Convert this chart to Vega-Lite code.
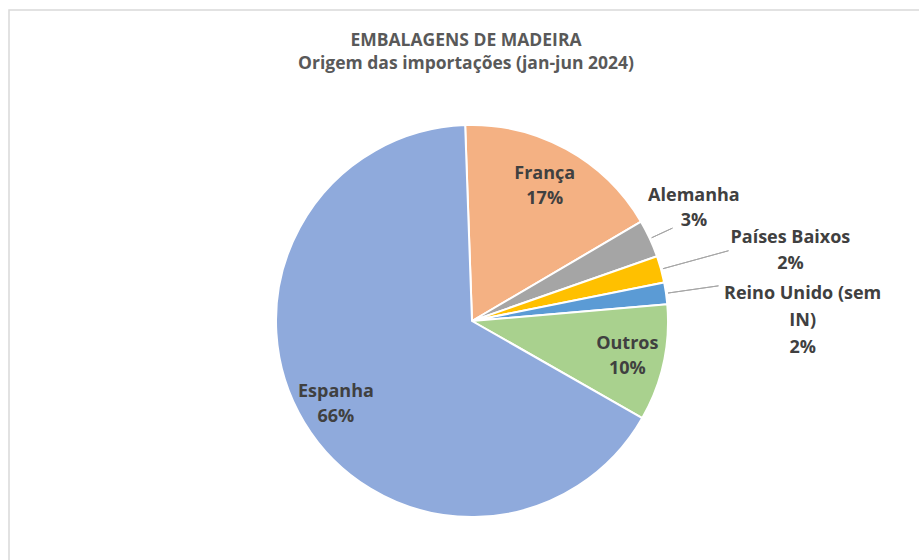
{
  "$schema": "https://vega.github.io/schema/vega-lite/v6.json",
  "width": 926,
  "height": 622,
  "autosize": {"type": "none"},
  "padding": {"left": 9, "top": 10, "right": -16, "bottom": -72},
  "background": "white",
  "view": {"stroke": "#D9D9D9", "strokeWidth": 1.5, "fill": "white"},
  "config": {"view": {"stroke": "#D9D9D9", "strokeWidth": 1.5}},
  "title": {
    "text": ["EMBALAGENS DE MADEIRA", "Origem das importações (jan-jun 2024)"],
    "font": "Open Sans",
    "fontSize": 17.5,
    "fontWeight": "bold",
    "color": "#595959",
    "lineHeight": 23,
    "anchor": "middle",
    "offset": -62,
    "dx": -6
  },
  "data": {
    "values": [
      {"pais": "França", "valor": 17.1, "ordem": 1, "rotulo": "França\n17%"},
      {"pais": "Alemanha", "valor": 3.1, "ordem": 2, "rotulo": "Alemanha\n3%"},
      {"pais": "Países Baixos", "valor": 2.2, "ordem": 3, "rotulo": "Países Baixos\n2%"},
      {"pais": "Reino Unido (sem IN)", "valor": 1.8, "ordem": 4, "rotulo": "Reino Unido (sem\nIN)\n2%"},
      {"pais": "Outros", "valor": 9.6, "ordem": 5, "rotulo": "Outros\n10%"},
      {"pais": "Espanha", "valor": 66.2, "ordem": 6, "rotulo": "Espanha\n66%"}
    ]
  },
  "encoding": {
    "theta": {"field": "valor", "type": "quantitative", "stack": true, "scale": {"range": [-0.0349, 6.2483]}},
    "order": {"field": "ordem", "type": "quantitative"}
  },
  "layer": [
    {
      "mark": {"type": "arc", "radius": 196, "stroke": "white", "strokeWidth": 2},
      "encoding": {
        "color": {
          "field": "pais",
          "type": "nominal",
          "scale": {
            "domain": ["França", "Alemanha", "Países Baixos", "Reino Unido (sem IN)", "Outros", "Espanha"],
            "range": ["#F4B183", "#A5A5A5", "#FFC000", "#5B9BD5", "#A9D18E", "#8FAADC"]
          },
          "legend": null
        }
      }
    },
    {
      "transform": [
        {"window": [{"op": "sum", "field": "valor", "as": "acum"}], "sort": [{"field": "ordem"}], "frame": [null, 0]},
        {"calculate": "datum.acum - datum.valor / 2", "as": "meio"},
        {"filter": "datum.pais === 'Alemanha'"}
      ],
      "mark": {"type": "arc", "radius": 221, "radius2": 198, "fill": null, "stroke": "#A6A6A6", "strokeWidth": 1},
      "encoding": {
        "theta": {"field": "meio", "type": "quantitative", "scale": {"range": [-0.0349, 6.2483]}},
        "theta2": {"field": "meio"}
      }
    },
    {
      "transform": [
        {"window": [{"op": "sum", "field": "valor", "as": "acum"}], "sort": [{"field": "ordem"}], "frame": [null, 0]},
        {"calculate": "datum.acum - datum.valor / 2", "as": "meio"},
        {"filter": "datum.pais === 'Países Baixos'"}
      ],
      "mark": {"type": "arc", "radius": 266, "radius2": 198, "fill": null, "stroke": "#A6A6A6", "strokeWidth": 1},
      "encoding": {
        "theta": {"field": "meio", "type": "quantitative", "scale": {"range": [-0.0349, 6.2483]}},
        "theta2": {"field": "meio"}
      }
    },
    {
      "transform": [
        {"window": [{"op": "sum", "field": "valor", "as": "acum"}], "sort": [{"field": "ordem"}], "frame": [null, 0]},
        {"calculate": "datum.acum - datum.valor / 2", "as": "meio"},
        {"filter": "datum.pais === 'Reino Unido (sem IN)'"}
      ],
      "mark": {"type": "arc", "radius": 249, "radius2": 198, "fill": null, "stroke": "#A6A6A6", "strokeWidth": 1},
      "encoding": {
        "theta": {"field": "meio", "type": "quantitative", "scale": {"range": [-0.0349, 6.2483]}},
        "theta2": {"field": "meio"}
      }
    },
    {
      "mark": {"type": "text", "radius": 151, "dy": -14.5, "lineBreak": "\n", "lineHeight": 25, "font": "Open Sans", "fontSize": 18, "fontWeight": "bold", "color": "#404040", "baseline": "middle", "align": "center"},
      "encoding": {"text": {"condition": {"test": "datum.pais === 'França'", "field": "rotulo"}, "value": ""}}
    },
    {
      "mark": {"type": "text", "radius": 159, "dy": -11, "lineBreak": "\n", "lineHeight": 25, "font": "Open Sans", "fontSize": 18, "fontWeight": "bold", "color": "#404040", "baseline": "middle", "align": "center"},
      "encoding": {"text": {"condition": {"test": "datum.pais === 'Outros' || datum.pais === 'Espanha'", "field": "rotulo"}, "value": ""}}
    },
    {
      "mark": {"type": "text", "radius": 249, "dx": -4, "dy": -20.5, "lineBreak": "\n", "lineHeight": 25, "font": "Open Sans", "fontSize": 18, "fontWeight": "bold", "color": "#404040", "baseline": "middle", "align": "center"},
      "encoding": {"text": {"condition": {"test": "datum.pais === 'Alemanha'", "field": "rotulo"}, "value": ""}}
    },
    {
      "mark": {"type": "text", "radius": 327, "dx": 3, "dy": 3.5, "lineBreak": "\n", "lineHeight": 26, "font": "Open Sans", "fontSize": 18, "fontWeight": "bold", "color": "#404040", "baseline": "middle", "align": "center"},
      "encoding": {"text": {"condition": {"test": "datum.pais === 'Países Baixos'", "field": "rotulo"}, "value": ""}}
    },
    {
      "mark": {"type": "text", "radius": 331, "dx": 3, "dy": 20, "lineBreak": "\n", "lineHeight": 26.7, "font": "Open Sans", "fontSize": 18, "fontWeight": "bold", "color": "#404040", "baseline": "middle", "align": "center"},
      "encoding": {"text": {"condition": {"test": "datum.pais === 'Reino Unido (sem IN)'", "field": "rotulo"}, "value": ""}}
    }
  ]
}
